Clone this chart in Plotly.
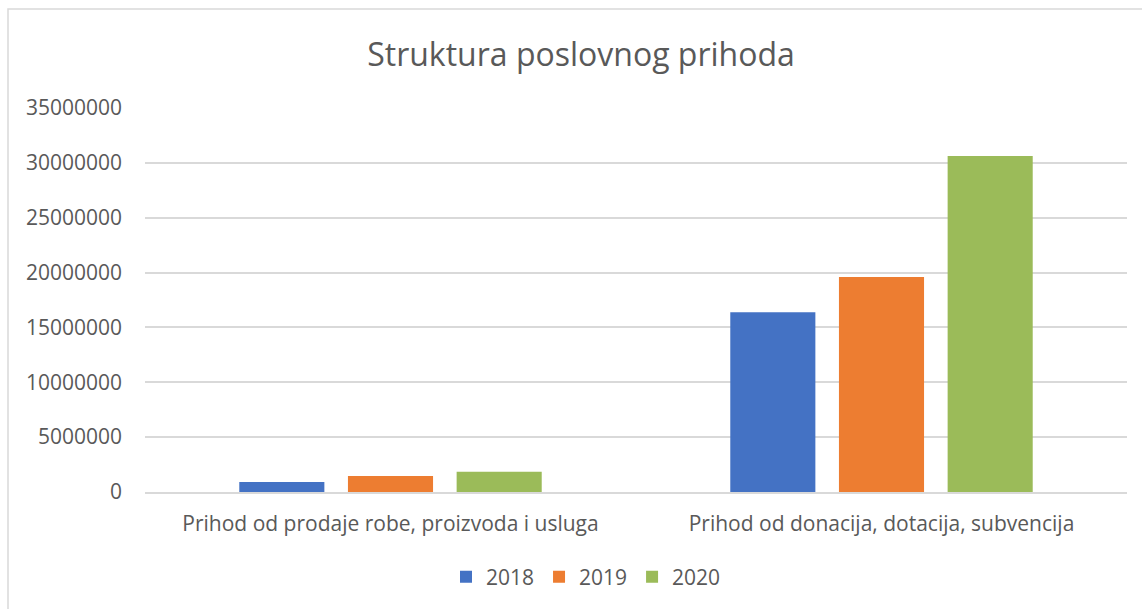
import plotly.graph_objects as go

categories = ["Prihod od prodaje robe, proizvoda i usluga",
              "Prihod od donacija, dotacija, subvencija"]
years = ["2018", "2019", "2020"]
values_2018 = [910000, 16380000]
values_2019 = [1460000, 19600000]
values_2020 = [1850000, 30620000]
colors = ["#4472C4", "#ED7D31", "#9BBB59"]
y_ticks = [0, 5000000, 10000000, 15000000, 20000000, 25000000, 30000000, 35000000]

W, H = 1142, 609
L, R, T, B = 145, 15, 108, 117
pw, ph = W - L - R, H - T - B

fig = go.Figure()
for name, vals, c in zip(years, [values_2018, values_2019, values_2020], colors):
    fig.add_trace(go.Bar(name=name, x=categories, y=vals,
                         marker=dict(color=c, line=dict(width=0))))

font = "Open Sans"
txt = "#595959"
fig.update_layout(
    width=W, height=H,
    margin=dict(l=L, r=R, t=T, b=B, pad=0),
    paper_bgcolor="white", plot_bgcolor="white",
    barmode="group", bargap=0.336, bargroupgap=0.217,
    title=dict(text="Struktura poslovnog prihoda", x=581 / W, xanchor="center",
               y=1 - 55 / H, yanchor="middle",
               font=dict(family=font, size=32, color=txt)),
    font=dict(family=font, color=txt),
    xaxis=dict(showgrid=False, showline=True, linecolor="#d9d9d9", linewidth=2,
               ticks="", tickfont=dict(family=font, size=21, color=txt),
               ticklabelstandoff=12),
    yaxis=dict(range=[0, 35000000], tickvals=y_ticks,
               ticktext=[str(v) for v in y_ticks],
               showgrid=True, gridcolor="#d9d9d9", gridwidth=2,
               zeroline=False, showline=False, ticks="",
               tickfont=dict(family=font, size=21, color=txt),
               ticklabelstandoff=22),
    legend=dict(orientation="h", xref="container", x=586 / W, xanchor="center",
                yref="container", y=1 - 577 / H, yanchor="middle",
                font=dict(family=font, size=21, color=txt),
                itemwidth=30, tracegroupgap=0),
    showlegend=True,
)

# outer chart border (only left and top edges visible in the frame)
x0 = (8 - L) / pw
x1 = (1160 - L) / pw
y1 = (H - B - 9) / ph
y0 = (H - B - 630) / ph
fig.add_shape(type="rect", xref="paper", yref="paper", x0=x0, x1=x1, y0=y0, y1=y1,
              line=dict(color="#d9d9d9", width=1.5), fillcolor="rgba(0,0,0,0)",
              layer="below")

fig.write_html("out.html")
